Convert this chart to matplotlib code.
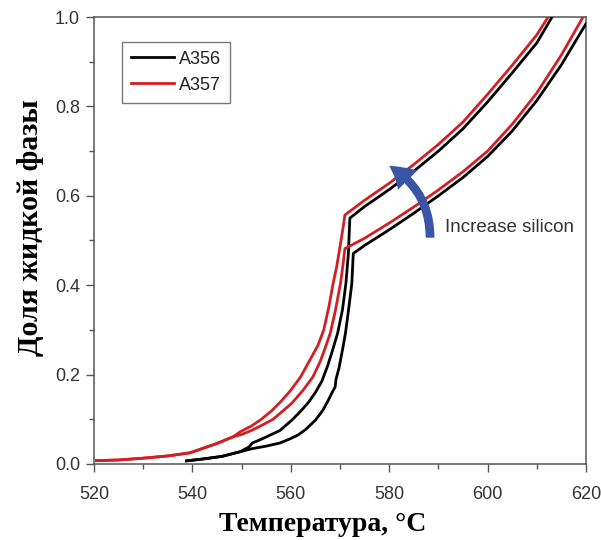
import matplotlib
matplotlib.use("Agg")
import matplotlib.pyplot as plt
from matplotlib.patches import FancyArrowPatch
from matplotlib.ticker import MultipleLocator

# ---- data ----
a357_upper_T = [520.5, 525, 530, 535, 539.5, 545, 548.3, 549.7, 552, 554, 556, 558, 560, 562,
                564, 565.5, 566.7, 567.8, 568.6, 569.3, 569.9, 570.5, 571.0,
                575, 580, 585, 590, 595, 600, 605, 610, 612.3]
a357_upper_f = [0.0075, 0.009, 0.013, 0.018, 0.025, 0.046, 0.061, 0.072, 0.085, 0.100, 0.118, 0.140, 0.165, 0.195,
                0.235, 0.265, 0.30, 0.355, 0.404, 0.44, 0.479, 0.52, 0.557,
                0.59, 0.628, 0.67, 0.715, 0.765, 0.827, 0.892, 0.96, 1.0]

a357_lower_T = [520.5, 525, 530, 535, 539.5, 545, 548.3, 550, 552, 554, 556.4, 558, 560.2, 562.5, 564.5,
                566, 567, 568, 569, 570.1, 570.6, 571.0,
                575, 580, 585, 590, 595, 600, 605, 610, 615, 619.4]
a357_lower_f = [0.0075, 0.009, 0.013, 0.018, 0.025, 0.046, 0.061, 0.066, 0.075, 0.086, 0.100, 0.115, 0.136, 0.165, 0.195,
                0.23, 0.26, 0.292, 0.34, 0.404, 0.445, 0.482,
                0.505, 0.539, 0.575, 0.613, 0.654, 0.70, 0.76, 0.83, 0.915, 1.0]

a356_upper_T = [538.8, 542, 546, 549.7, 551.5, 552.2, 553.5, 555.1, 557.8, 560.2, 562, 563.6, 565, 566.3,
                567.5, 568.5, 569.5, 570.5, 571.2, 571.7, 572.0,
                575, 580, 585, 590, 595, 600, 605, 610, 613.1]
a356_upper_f = [0.007, 0.011, 0.017, 0.0275, 0.038, 0.047, 0.053, 0.061, 0.075, 0.098, 0.118, 0.138, 0.16, 0.185,
                0.22, 0.255, 0.292, 0.345, 0.404, 0.47, 0.55,
                0.576, 0.614, 0.655, 0.70, 0.75, 0.81, 0.875, 0.942, 1.0]

a356_lower_T = [538.8, 542, 546, 549.7, 552, 555, 557.8, 560, 561.5, 563, 565, 566.5, 567.5, 568.4, 569.0,
                569.2, 569.8, 570.5, 571.1, 571.8, 572.4, 572.7,
                575, 580, 585, 590, 595, 600, 605, 610, 615, 620]
a356_lower_f = [0.007, 0.011, 0.017, 0.0275, 0.034, 0.04, 0.047, 0.057, 0.065, 0.077, 0.098, 0.12, 0.14, 0.16, 0.172,
                0.19, 0.215, 0.255, 0.292, 0.35, 0.404, 0.471,
                0.489, 0.524, 0.561, 0.60, 0.641, 0.688, 0.745, 0.813, 0.893, 0.985]

series_labels = ["A356", "A357"]
x_ticks = [520, 540, 560, 580, 600, 620]
y_ticks = [0.0, 0.2, 0.4, 0.6, 0.8, 1.0]
x_label = "Температура, °C"
y_label = "Доля жидкой фазы"
note_text = "Increase silicon"

# ---- figure ----
fig = plt.figure(figsize=(6.01, 5.40), dpi=100)
ax = fig.add_axes([94 / 601, 1 - 464 / 540, 492 / 601, 447 / 540])

black = "#000000"
red = "#d21f24"
lw = 2.0

l1, = ax.plot(a356_upper_T, a356_upper_f, color=black, lw=lw, label=series_labels[0], zorder=3)
ax.plot(a356_lower_T, a356_lower_f, color=black, lw=lw, zorder=3)
l2, = ax.plot(a357_upper_T, a357_upper_f, color=red, lw=lw, label=series_labels[1], zorder=4)
ax.plot(a357_lower_T, a357_lower_f, color=red, lw=lw, zorder=4)

ax.set_xlim(520, 620)
ax.set_ylim(0, 1.0)
ax.set_xticks(x_ticks)
ax.set_yticks(y_ticks)
ax.set_yticklabels([f"{v:.1f}" for v in y_ticks])
ax.xaxis.set_minor_locator(MultipleLocator(10))
ax.yaxis.set_minor_locator(MultipleLocator(0.1))

spine_col = "#555555"
for s in ax.spines.values():
    s.set_color(spine_col)
    s.set_linewidth(1.1)

ax.tick_params(axis="both", which="major", direction="out", length=6, width=1.0,
               color=spine_col, labelsize=13, labelcolor="#333333", pad=4)
ax.tick_params(axis="both", which="minor", direction="out", length=3.5, width=1.0, color=spine_col)
ax.tick_params(axis="x", which="major", pad=10)
for lab in ax.get_xticklabels() + ax.get_yticklabels():
    lab.set_fontfamily("Liberation Sans")

ax.set_xlabel(x_label, fontfamily="Liberation Serif", fontweight="bold", fontsize=20)
ax.set_ylabel(y_label, fontfamily="Liberation Serif", fontweight="bold", fontsize=21.5)
ax.xaxis.set_label_coords(0.465, -0.136)
ax.yaxis.set_label_coords(-0.13, 0.528)
ax.xaxis.label.set_va("center")
ax.yaxis.label.set_va("center")

leg = ax.legend(handles=[l1, l2], loc="upper left", bbox_to_anchor=(0.056, 0.945),
                borderaxespad=0, fancybox=False, frameon=True, edgecolor="#555555",
                handlelength=2.4, handletextpad=0.3, borderpad=0.5, labelspacing=0.5,
                prop={"family": "Liberation Sans", "size": 13})
leg.get_frame().set_linewidth(1.0)
for t in leg.get_texts():
    t.set_color("#222222")

arrow = FancyArrowPatch((588.3, 0.50), (579.5, 0.67),
                        connectionstyle="arc3,rad=0.3",
                        arrowstyle="simple,head_width=1.4,head_length=1.2,tail_width=0.45",
                        mutation_scale=14, color="#3a55a8", zorder=5, lw=0)
ax.add_patch(arrow)

ax.text(591.3, 0.528, note_text, fontfamily="Liberation Sans", fontsize=13.5,
        color="#333333", va="center", ha="left")

fig.savefig("out.png", dpi=100)
